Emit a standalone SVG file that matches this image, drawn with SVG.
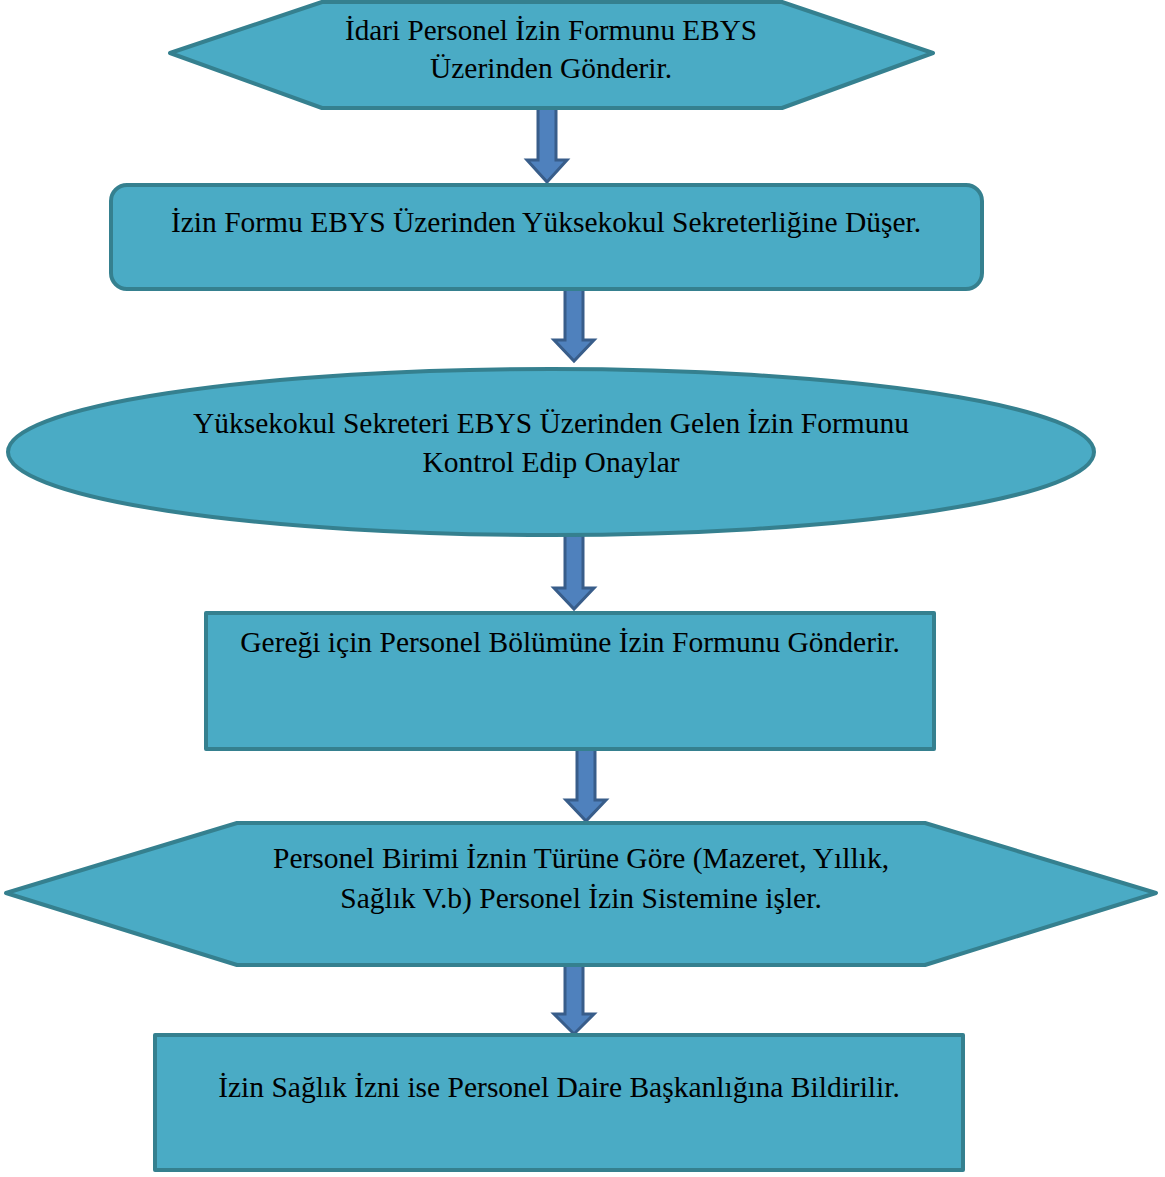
<svg xmlns="http://www.w3.org/2000/svg" width="1165" height="1177" viewBox="0 0 1165 1177">
  <style>
    .shape { fill: #4aabc5; stroke: #35808f; stroke-width: 4; stroke-linejoin: round; }
    .arrow { fill: #4f81bd; stroke: #385d8a; stroke-width: 3; stroke-linejoin: miter; }
    .lbl { font-family: "Liberation Serif", "Times New Roman", serif; font-size: 29.5px; fill: #000; text-anchor: middle; }
  </style>
  <rect width="1165" height="1177" fill="#ffffff"/>

  <g id="connectors">
    <path class="arrow" d="M538,108 H556 V160 H567 L547,182 L527,160 H538 Z"/>
    <path class="arrow" d="M565,287 H583 V340 H594 L574,361 L554,340 H565 Z"/>
    <path class="arrow" d="M565,535 H583 V588 H594 L574,609 L554,588 H565 Z"/>
    <path class="arrow" d="M577,749 H595 V800 H606 L586,821 L566,800 H577 Z"/>
    <path class="arrow" d="M565,965 H583 V1014 H594 L574,1034 L554,1014 H565 Z"/>
  </g>

  <g id="node1">
    <polygon class="shape" points="170,53 322,2 782,2 933,53 782,108 322,108"/>
    <text class="lbl" x="551" y="40" textLength="412" lengthAdjust="spacingAndGlyphs">İdari Personel İzin Formunu EBYS</text>
    <text class="lbl" x="551" y="78" textLength="242" lengthAdjust="spacingAndGlyphs">Üzerinden Gönderir.</text>
  </g>

  <g id="node2">
    <rect class="shape" x="111" y="185" width="871" height="104" rx="16"/>
    <text class="lbl" x="546" y="232">İzin Formu EBYS Üzerinden Yüksekokul Sekreterliğine Düşer.</text>
  </g>

  <g id="node3">
    <ellipse class="shape" cx="551" cy="452" rx="543" ry="83"/>
    <text class="lbl" x="551" y="433">Yüksekokul Sekreteri EBYS Üzerinden Gelen İzin Formunu</text>
    <text class="lbl" x="551" y="472">Kontrol Edip Onaylar</text>
  </g>

  <g id="node4">
    <rect class="shape" x="206" y="613" width="728" height="136"/>
    <text class="lbl" x="570" y="652">Gereği için Personel Bölümüne İzin Formunu Gönderir.</text>
  </g>

  <g id="node5">
    <polygon class="shape" points="6,893 237,823 925,823 1156,893 925,965 237,965"/>
    <text class="lbl" x="581" y="868">Personel Birimi İznin Türüne Göre (Mazeret, Yıllık,</text>
    <text class="lbl" x="581" y="908">Sağlık V.b) Personel İzin Sistemine işler.</text>
  </g>

  <g id="node6">
    <rect class="shape" x="155" y="1035" width="808" height="135"/>
    <text class="lbl" x="559" y="1097">İzin Sağlık İzni ise Personel Daire Başkanlığına Bildirilir.</text>
  </g>
</svg>
